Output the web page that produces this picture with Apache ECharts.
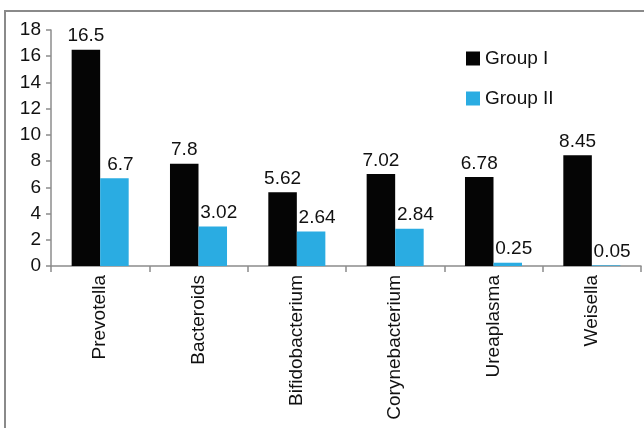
<!DOCTYPE html>
<html>
<head>
<meta charset="utf-8">
<script src="https://cdn.jsdelivr.net/npm/echarts@6/dist/echarts.min.js"></script>
<style>html,body{margin:0;padding:0;background:#fff;}#c{width:644px;height:428px;}</style>
</head>
<body>
<div id="c"></div>
<script>
const categories = ['Prevotella', 'Bacteroids', 'Bifidobacterium', 'Corynebacterium', 'Ureaplasma', 'Weisella'];
const groupI = [16.5, 7.8, 5.62, 7.02, 6.78, 8.45];
const groupII = [6.7, 3.02, 2.64, 2.84, 0.25, 0.05];
const groupILabels = ['16.5', '7.8', '5.62', '7.02', '6.78', '8.45'];
const groupIILabels = ['6.7', '3.02', '2.64', '2.84', '0.25', '0.05'];
const yTicks = [0, 2, 4, 6, 8, 10, 12, 14, 16, 18];

const font = '"Liberation Sans", Arial, sans-serif';
const fs = 19;
const axisColor = '#8c8c8c';
const chart = echarts.init(document.getElementById('c'), null, {renderer: 'canvas'});
chart.setOption({
  animation: false,
  backgroundColor: '#fff',
  graphic: [{
    type: 'rect',
    shape: {x: 5, y: 11, width: 700, height: 500},
    style: {fill: 'none', stroke: '#8a8a8a', lineWidth: 2},
    silent: true, z: -1
  }],
  legend: {
    orient: 'vertical',
    left: 461, top: 44,
    itemWidth: 14, itemHeight: 14, itemGap: 21,
    textStyle: {fontFamily: font, fontSize: fs, color: '#111', lineHeight: 19},
    data: [{name: 'Group I', icon: 'rect'}, {name: 'Group II', icon: 'rect'}]
  },
  grid: {left: 51, right: 3, top: 30, bottom: 162, containLabel: false},
  xAxis: {
    type: 'category',
    data: categories,
    axisLine: {lineStyle: {color: axisColor, width: 1.5}},
    axisTick: {show: true, length: 6, lineStyle: {color: axisColor, width: 1.5}},
    axisLabel: {rotate: 90, margin: 9, fontFamily: font, fontSize: fs, color: '#111', interval: 0}
  },
  yAxis: {
    type: 'value',
    min: yTicks[0], max: yTicks[yTicks.length - 1], interval: 2,
    splitLine: {show: false},
    axisLine: {show: true, lineStyle: {color: axisColor, width: 1.5}},
    axisTick: {show: true, length: 5, lineStyle: {color: axisColor, width: 1.5}},
    axisLabel: {margin: 10, fontFamily: font, fontSize: fs, color: '#111'}
  },
  series: [{
    name: 'Group I', type: 'bar', data: groupI,
    barWidth: '29%', barGap: '0%',
    itemStyle: {color: '#050505'},
    label: {show: true, position: 'top', distance: 4, fontFamily: font, fontSize: fs, color: '#111',
      formatter: p => groupILabels[p.dataIndex]}
  }, {
    name: 'Group II', type: 'bar', data: groupII,
    barWidth: '29%', barGap: '0%',
    itemStyle: {color: '#2aace2'},
    label: {show: true, position: 'top', distance: 4, offset: [6, 0], fontFamily: font, fontSize: fs, color: '#111',
      formatter: p => groupIILabels[p.dataIndex]}
  }]
});
</script>
</body>
</html>
